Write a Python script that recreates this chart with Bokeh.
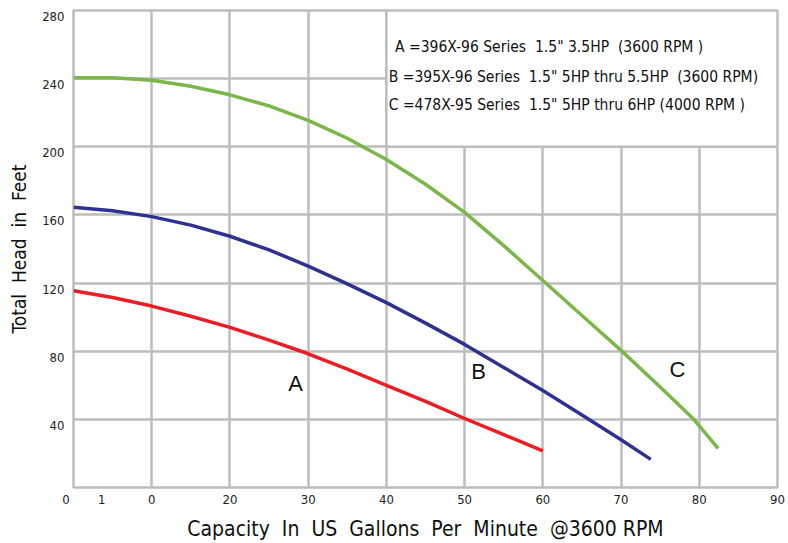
from bokeh.plotting import figure
from bokeh.models import FixedTicker, Range1d, LinearAxis, Grid
from bokeh.core.properties import value
from bokeh.embed import file_html
from bokeh.resources import INLINE

# ---- data ----
flow_a = [0, 5, 10, 15, 20, 25, 30, 35, 40, 45, 50, 55, 60]
head_a = [115.5, 111.5, 106.5, 100.5, 94, 86.5, 78.5, 69.5, 60, 50.5, 40.5, 31, 21.5]

flow_b = [0, 5, 10, 15, 20, 25, 30, 35, 40, 45, 50, 55, 60, 65, 70, 73.8]
head_b = [164.5, 162.5, 159, 154, 147.5, 139.5, 130, 119.5, 108.5, 96.5, 84, 70.5, 57, 42.5, 28, 16.5]

flow_c = [0, 5, 10, 15, 20, 25, 30, 35, 40, 45, 50, 55, 60, 65, 70, 75, 79.3, 82.4]
head_c = [240.5, 240.5, 239, 235.5, 230.5, 224, 215.5, 205, 192.5, 178, 161.5, 142, 121.5, 101, 80.5, 59, 40, 23]

NB = "\u00a0"
x_ticks = [0, 3.6, 10, 20, 30, 40, 50, 60, 70, 80, 90]
x_tick_labels = ["0" + NB * 4, "1", "0", "20", "30", "40", "50", "60", "70", "80", "90"]
x_grid = [10, 20, 30, 40, 50, 60, 70, 80, 90]
y_ticks = [40, 80, 120, 160, 200, 240, 280]
y_grid = [40, 80, 120, 160, 200, 240]

curve_names = ["A", "B", "C"]
curve_label_x = [28.4, 51.8, 77.2]
curve_label_y = [60.8, 67.8, 69.5]

legend_lines = [
    "A =396X-96 Series " + NB + "1.5\" 3.5HP " + NB + "(3600 RPM )",
    "B =395X-96 Series " + NB + "1.5\" 5HP thru 5.5HP " + NB + "(3600 RPM)",
    "C =478X-95 Series " + NB + "1.5\" 5HP thru 6HP (4000 RPM )",
]
legend_x = [41.1, 40.3, 40.3]
legend_y = [258.5, 241, 224.5]
box_left, box_right, box_bottom, box_top = [40], [90], [200], [280]

COND = "DejaVu Sans Condensed"
GRID = "#bdbdbd"
LABEL_SHIFT = 3.5  # tick labels sit a little below their grid lines

p = figure(width=788, height=543, output_backend="svg", toolbar_location=None,
           x_range=Range1d(0, 90), y_range=Range1d(0, 280), y_axis_location=None,
           min_border_left=73, min_border_right=11, min_border_top=10, min_border_bottom=54)
p.background_fill_color = "white"
p.border_fill_color = "white"
p.outline_line_color = GRID
p.outline_line_width = 2.5

# grid
for g in p.ygrid:
    g.visible = False
p.xgrid.ticker = FixedTicker(ticks=x_grid)
p.xgrid.grid_line_color = GRID
p.xgrid.grid_line_width = 2.5
p.add_layout(Grid(dimension=1, ticker=FixedTicker(ticks=y_grid),
                  grid_line_color=GRID, grid_line_width=2.5), "center")

# y axis (labels offset slightly below the grid lines, as in the original)
p.extra_y_ranges = {"lab": Range1d(LABEL_SHIFT, 280 + LABEL_SHIFT)}
yax = LinearAxis(y_range_name="lab", ticker=FixedTicker(ticks=y_ticks))
p.add_layout(yax, "left")

p.xaxis.ticker = FixedTicker(ticks=x_ticks)
p.xaxis.major_label_overrides = {t: s for t, s in zip(x_ticks, x_tick_labels)}
for ax in (p.xaxis[0], yax):
    ax.axis_line_color = None
    ax.major_tick_line_color = None
    ax.minor_tick_line_color = None
    ax.major_tick_out = 0
    ax.major_tick_in = 0
    ax.minor_tick_out = 0
    ax.major_label_text_font = COND
    ax.major_label_text_font_size = "13px"
    ax.major_label_text_color = "#222222"
    ax.axis_label_text_font = COND
    ax.axis_label_text_font_style = "normal"
    ax.axis_label_text_color = "#111111"
p.xaxis.axis_label_text_font_size = "21px"
yax.axis_label_text_font_size = "19px"
p.xaxis.major_label_standoff = 4
yax.major_label_standoff = 9
p.xaxis.axis_label = "Capacity " + NB + "In " + NB + "US " + NB + "Gallons " + NB + "Per " + NB + "Minute " + NB + "@3600 RPM"
yax.axis_label = "Total " + NB + "Head " + NB + "in " + NB + "Feet"
p.xaxis.axis_label_standoff = 7
yax.axis_label_standoff = 9

# legend box
p.quad(left=box_left, right=box_right, bottom=box_bottom, top=box_top,
       fill_color="white", line_color=GRID, line_width=2.5)

p.text(x=legend_x, y=legend_y, text=legend_lines,
       text_font=value(COND), text_font_size="15.5px", text_color="#111111",
       text_baseline="middle", text_align="left")

# curves
p.line(flow_a, head_a, line_color="#ed1c24", line_width=3.5, line_join="round")
p.line(flow_b, head_b, line_color="#2e3192", line_width=3.5, line_join="round")
p.line(flow_c, head_c, line_color="#7ab648", line_width=3.5, line_join="round")

p.text(x=curve_label_x, y=curve_label_y, text=curve_names,
       text_font=value("Liberation Sans"), text_font_size="22px", text_color="#111111",
       text_baseline="middle", text_align="center")

open("out.html", "w").write(file_html(p, INLINE))
